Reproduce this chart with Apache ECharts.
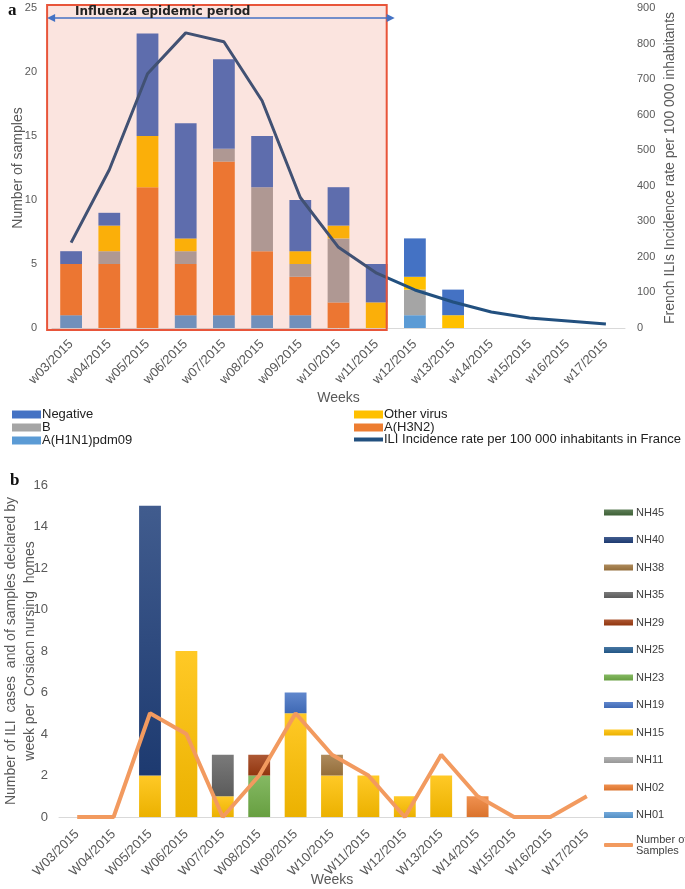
<!DOCTYPE html>
<html>
<head>
<meta charset="utf-8">
<script src="https://cdn.jsdelivr.net/npm/echarts@6/dist/echarts.min.js"></script>
<style>
  html, body { margin: 0; padding: 0; background: #fff; }
  #main { width: 685px; height: 889px; }
</style>
</head>
<body>
<div id="main"></div>
<script>
// ---- panel a data ----
var weeksA = ['w03/2015','w04/2015','w05/2015','w06/2015','w07/2015','w08/2015','w09/2015','w10/2015','w11/2015','w12/2015','w13/2015','w14/2015','w15/2015','w16/2015','w17/2015'];
var h1n1   = [1, 0, 0, 1, 1, 1, 1, 0, 0, 1, 0, 0, 0, 0, 0];
var h3n2   = [4, 5, 11, 4, 12, 5, 3, 2, 0, 0, 0, 0, 0, 0, 0];
var fluB   = [0, 1, 0, 1, 1, 5, 1, 5, 0, 2, 0, 0, 0, 0, 0];
var other  = [0, 2, 4, 1, 0, 0, 1, 1, 2, 1, 1, 0, 0, 0, 0];
var neg    = [1, 1, 8, 9, 7, 4, 4, 3, 3, 3, 2, 0, 0, 0, 0];
var iliRate = [240, 445, 715, 830, 805, 639, 367, 227, 154, 107, 73, 45, 28, 20, 11];

// ---- panel b data ----
var weeksB = ['W03/2015','W04/2015','W05/2015','W06/2015','W07/2015','W08/2015','W09/2015','W10/2015','W11/2015','W12/2015','W13/2015','W14/2015','W15/2015','W16/2015','W17/2015'];
var homes = ['NH01','NH02','NH11','NH15','NH19','NH23','NH25','NH29','NH35','NH38','NH40','NH45'];
var homeValues = {
    NH01: [0,0,0,0,0,0,0,0,0,0,0,0,0,0,0],
    NH02: [0,0,0,0,0,0,0,0,0,0,0,1,0,0,0],
    NH11: [0,0,0,0,0,0,0,0,0,0,0,0,0,0,0],
    NH15: [0,0,2,8,1,0,5,2,2,1,2,0,0,0,0],
    NH19: [0,0,0,0,0,0,1,0,0,0,0,0,0,0,0],
    NH23: [0,0,0,0,0,2,0,0,0,0,0,0,0,0,0],
    NH25: [0,0,0,0,0,0,0,0,0,0,0,0,0,0,0],
    NH29: [0,0,0,0,0,1,0,0,0,0,0,0,0,0,0],
    NH35: [0,0,0,0,2,0,0,0,0,0,0,0,0,0,0],
    NH38: [0,0,0,0,0,0,0,1,0,0,0,0,0,0,0],
    NH40: [0,0,13,0,0,0,0,0,0,0,0,0,0,0,0],
    NH45: [0,0,0,0,0,0,0,0,0,0,0,0,0,0,0]
};
var nbSamples = [0, 0, 5, 4, 0, 2, 5, 3, 2, 0, 3, 1, 0, 0, 1];

var homeColors = {
    NH01: '#5b9bd5', NH02: '#ed7d31', NH11: '#a5a5a5', NH15: '#ffc000',
    NH19: '#4472c4', NH23: '#70ad47', NH25: '#255e91', NH29: '#9e3b10',
    NH35: '#636363', NH38: '#a0773f', NH40: '#203f7a', NH45: '#43683b'
};

function lighten(hex, k) {
    var r = parseInt(hex.substr(1,2),16), g = parseInt(hex.substr(3,2),16), b = parseInt(hex.substr(5,2),16);
    r = Math.round(r + (255-r)*k); g = Math.round(g + (255-g)*k); b = Math.round(b + (255-b)*k);
    return 'rgb(' + r + ',' + g + ',' + b + ')';
}
function darken(hex, k) {
    var r = parseInt(hex.substr(1,2),16), g = parseInt(hex.substr(3,2),16), b = parseInt(hex.substr(5,2),16);
    return 'rgb(' + Math.round(r*(1-k)) + ',' + Math.round(g*(1-k)) + ',' + Math.round(b*(1-k)) + ')';
}

var FONT = 'Liberation Sans';
var axisGray = '#595959';
var iliName = 'ILI Incidence rate per 100 000 inhabitants in France';

var myChart = echarts.init(document.getElementById('main'));

var series = [
    {name:'A(H1N1)pdm09', type:'bar', stack:'a', xAxisIndex:0, yAxisIndex:0, data:h1n1, barWidth:'57%', itemStyle:{color:'#5b9bd5'}},
    {name:'A(H3N2)', type:'bar', stack:'a', xAxisIndex:0, yAxisIndex:0, data:h3n2, itemStyle:{color:'#ed7d31'}},
    {name:'B', type:'bar', stack:'a', xAxisIndex:0, yAxisIndex:0, data:fluB, itemStyle:{color:'#a5a5a5'}},
    {name:'Other virus', type:'bar', stack:'a', xAxisIndex:0, yAxisIndex:0, data:other, itemStyle:{color:'#ffc000'}},
    {name:'Negative', type:'bar', stack:'a', xAxisIndex:0, yAxisIndex:0, data:neg, itemStyle:{color:'#4472c4'}},
    {name:iliName, type:'line', xAxisIndex:0, yAxisIndex:1,
        data:iliRate, symbol:'none', z:5, lineStyle:{color:'#22507f', width:3}, itemStyle:{color:'#22507f'}}
];
for (var i = 0; i < homes.length; i++) {
    var c = homeColors[homes[i]];
    series.push({
        name: homes[i], type:'bar', stack:'b', xAxisIndex:1, yAxisIndex:2,
        data: homeValues[homes[i]], barWidth:'60%',
        itemStyle:{color: new echarts.graphic.LinearGradient(0,0,0,1,[
            {offset:0, color: lighten(c, 0.15)}, {offset:1, color: darken(c, 0.08)}])}
    });
}
series.push({name:'Number of Samples', type:'line', xAxisIndex:1, yAxisIndex:2, data:nbSamples,
    symbol:'none', z:5, lineStyle:{color:'#f29a5f', width:4}, itemStyle:{color:'#f29a5f'}});

var legendText = {fontFamily:FONT, fontSize:13, color:'#222', padding:[0,0,0,-4], lineHeight:12.5};
var legendTextB = {fontFamily:FONT, fontSize:11, color:'#404040', padding:[0,0,0,-2], lineHeight:11};
var legendHomes = homes.slice().reverse();

var option = {
    animation: false,
    textStyle: {fontFamily: FONT},
    grid: [
        {left:52, width:573, top:8, height:320, outerBoundsMode:'none'},
        {left:59, width:546, top:485, height:332, outerBoundsMode:'none'}
    ],
    legend: [
        {left:12, top:408, padding:0, orient:'vertical', itemGap:0, itemWidth:29, itemHeight:8, selectedMode:false,
            textStyle:legendText, icon:'rect',
            data:['Negative','B','A(H1N1)pdm09']},
        {left:354, top:408, padding:0, orient:'vertical', itemGap:0, itemWidth:29, itemHeight:8, selectedMode:false,
            textStyle:legendText, icon:'rect',
            data:['Other virus','A(H3N2)']},
        {left:354, top:433, padding:0, orient:'vertical', itemWidth:29, itemHeight:4, selectedMode:false,
            textStyle:legendText, icon:'rect', data:[iliName]},
        {left:604, top:507, padding:0, orient:'vertical', itemGap:16.5, itemWidth:29, itemHeight:6, selectedMode:false,
            textStyle:legendTextB, icon:'rect', data: legendHomes},
        {left:604, top:834, padding:0, orient:'vertical', itemWidth:29, itemHeight:4, selectedMode:false,
            textStyle:legendTextB, icon:'roundRect',
            formatter:function () { return 'Number of\nSamples'; },
            data:['Number of Samples']}
    ],
    xAxis: [
        {type:'category', gridIndex:0, data:weeksA,
            axisLine:{lineStyle:{color:'#d9d9d9'}}, axisTick:{show:false},
            axisLabel:{rotate:45, fontSize:13, color:axisGray, margin:14, interval:0},
            name:'Weeks', nameLocation:'middle', nameGap:63, nameMoveOverlap:false,
            nameTextStyle:{fontSize:14, color:axisGray}},
        {type:'category', gridIndex:1, data:weeksB,
            axisLine:{lineStyle:{color:'#d9d9d9'}}, axisTick:{show:false},
            axisLabel:{rotate:45, fontSize:13, color:axisGray, margin:15, interval:0},
            name:'Weeks', nameLocation:'middle', nameGap:56, nameMoveOverlap:false,
            nameTextStyle:{fontSize:14, color:axisGray}}
    ],
    yAxis: [
        {type:'value', gridIndex:0, min:0, max:25, interval:5,
            axisLine:{show:false}, axisTick:{show:false}, splitLine:{show:false},
            axisLabel:{fontSize:11, color:axisGray, margin:15},
            name:'Number of samples', nameLocation:'middle', nameGap:27, nameRotate:90, nameMoveOverlap:false,
            nameTextStyle:{fontSize:14, color:axisGray}},
        {type:'value', gridIndex:0, min:0, max:900, interval:100, position:'right',
            axisLine:{show:false}, axisTick:{show:false}, splitLine:{show:false},
            axisLabel:{fontSize:11, color:axisGray, margin:12},
            name:'French ILIs Incidence rate per 100 000 inhabitants', nameLocation:'middle', nameGap:38, nameRotate:90,
            nameMoveOverlap:false, nameTextStyle:{fontSize:14, color:axisGray}},
        {type:'value', gridIndex:1, min:0, max:16, interval:2,
            axisLine:{show:false}, axisTick:{show:false}, splitLine:{show:false},
            axisLabel:{fontSize:13, color:axisGray, margin:11},
            name:'Number of ILI  cases  and of samples declared by\nweek per  Corsiacn nursing  homes',
            nameLocation:'middle', nameGap:19, nameRotate:90, nameMoveOverlap:false,
            nameTextStyle:{fontSize:14, color:axisGray, lineHeight:19}}
    ],
    series: series
};

myChart.setOption(option);

// epidemic period box and arrow, placed from the axis scales
var x0 = myChart.convertToPixel({xAxisIndex:0}, weeksA[0]);
var x8 = myChart.convertToPixel({xAxisIndex:0}, weeksA[8]);
var yTop = myChart.convertToPixel({yAxisIndex:0}, 25);
var yBot = myChart.convertToPixel({yAxisIndex:0}, 0);
var boxL = x0 - 24, boxR = x8 + 10, boxT = yTop - 3, boxB = yBot + 2;
var arrowY = boxT + 13, arrowR = boxR + 8;

myChart.setOption({
    graphic: [
        {type:'rect', z:10, shape:{x:boxL, y:boxT, width:boxR-boxL, height:boxB-boxT},
            style:{fill:'rgba(232,85,58,0.16)', stroke:'#e8553a', lineWidth:2}},
        {type:'line', z:11, shape:{x1:boxL+6, y1:arrowY, x2:arrowR-6, y2:arrowY},
            style:{stroke:'#4472c4', lineWidth:1.5}},
        {type:'polygon', z:11, shape:{points:[[boxL,arrowY],[boxL+8,arrowY-4],[boxL+8,arrowY+4]]}, style:{fill:'#4472c4'}},
        {type:'polygon', z:11, shape:{points:[[arrowR,arrowY],[arrowR-8,arrowY-4],[arrowR-8,arrowY+4]]}, style:{fill:'#4472c4'}},
        {type:'text', z:12, left:75, top:6,
            style:{text:'Influenza epidemic period', fontFamily:'DejaVu Sans', fontWeight:'bold', fontSize:12, fill:'#222'}},
        {type:'text', left:8, top:2, style:{text:'a', fontFamily:'Liberation Serif', fontWeight:'bold', fontSize:17, fill:'#111'}},
        {type:'text', left:10, top:472, style:{text:'b', fontFamily:'Liberation Serif', fontWeight:'bold', fontSize:17, fill:'#111'}}
    ]
});
</script>
</body>
</html>
